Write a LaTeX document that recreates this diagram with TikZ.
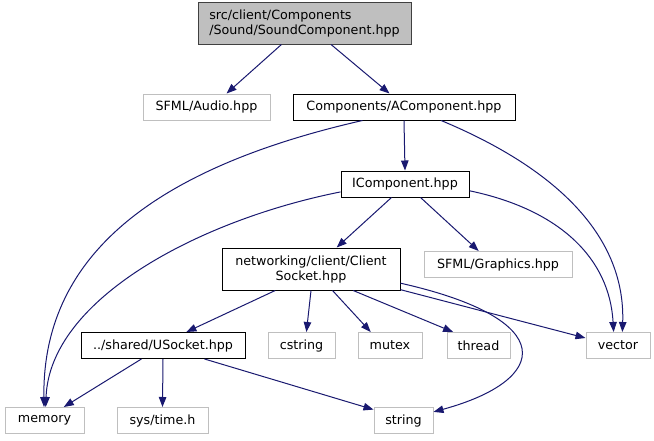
\documentclass[tikz,border=0pt]{standalone}
\usepackage{fontspec}
\setmainfont{DejaVu Sans}
\usetikzlibrary{arrows.meta}
\definecolor{edgec}{HTML}{191970}
\definecolor{extc}{HTML}{BFBFBF}
\definecolor{rootfill}{HTML}{BFBFBF}
\definecolor{rootdraw}{HTML}{404040}
\begin{document}
\begin{tikzpicture}[x=1pt,y=-1pt,
  every node/.style={font=\fontsize{12.7}{15}\selectfont, inner sep=0pt, minimum height=26pt},
  docbox/.style={draw=black, line width=1pt, fill=white},
  extbox/.style={draw=extc, line width=1pt, fill=white},
  rootbox/.style={draw=rootdraw, line width=1pt, fill=rootfill, align=left, minimum height=42pt},
  dep/.style={draw=edgec, line width=1pt, -{Triangle[length=10pt,width=7.5pt,fill=edgec]}}
]
\useasboundingbox (0,0) rectangle (654,440);
\fill[white] (0,0) rectangle (654,440);

\node[rootbox, minimum width=213pt] (root) at (304.5,23) {src/client/Components\\/Sound/SoundComponent.hpp};
\node[extbox, minimum width=127pt] (audio) at (206.5,107) {SFML/Audio.hpp};
\node[docbox, minimum width=222pt] (acomp) at (404,107) {Components/AComponent.hpp};
\node[docbox, minimum width=128pt] (icomp) at (405,184) {IComponent.hpp};
\node[docbox, minimum width=178pt, minimum height=42pt, align=center] (csock) at (311,269) {networking/client/Client\\Socket.hpp};
\node[extbox, minimum width=148pt] (graphics) at (498,264.5) {SFML/Graphics.hpp};
\node[docbox, minimum width=164pt] (usock) at (163,345.5) {../shared/USocket.hpp};
\node[extbox, minimum width=67pt] (cstring) at (301.5,345.5) {cstring};
\node[extbox, minimum width=64pt] (mutex) at (390,345.5) {mutex};
\node[extbox, minimum width=63pt] (thread) at (478.5,345.5) {thread};
\node[extbox, minimum width=64pt] (vector) at (618,345.5) {vector};
\node[extbox, minimum width=79pt] (memory) at (44.5,420.5) {memory};
\node[extbox, minimum width=91pt] (systime) at (162.5,420.5) {sys/time.h};
\node[extbox, minimum width=59pt] (string) at (403.5,420.5) {string};

\draw[dep] (root.-137) -- (audio.34);
\draw[dep] (root.-39.5) -- (acomp.137);
\draw[dep] (acomp.south) -- (icomp.north);
\draw[dep] (acomp.-162) .. controls +(-215,49) and +(-2,-147) .. (memory.92);
\draw[dep] (acomp.-20) .. controls +(120,50) and +(3,-93) .. (vector.72);
\draw[dep] (icomp.-173) .. controls +(-141,28) and +(4,-108) .. (memory.85);
\draw[dep] (icomp.-135) -- (csock.40);
\draw[dep] (icomp.-41) -- (graphics.145);
\draw[dep] (icomp.-6) .. controls +(91,19) and +(-4,-73) .. (vector.108);
\draw[dep] (csock.-149) -- (usock.30);
\draw[dep] (csock.south) -- (cstring.70);
\draw[dep] (csock.-45) -- (mutex.145);
\draw[dep] (csock.-27) -- (thread.152);
\draw[dep] (csock.-13.5) -- (vector.167);
\draw[dep] (csock.-9.6) .. controls +(160,36) and +(117,-32) .. (string.16);
\draw[dep] (usock.-148) -- (memory.35.5);
\draw[dep] (usock.south) -- (systime.north);
\draw[dep] (usock.-18) -- (string.160);
\end{tikzpicture}
\end{document}
